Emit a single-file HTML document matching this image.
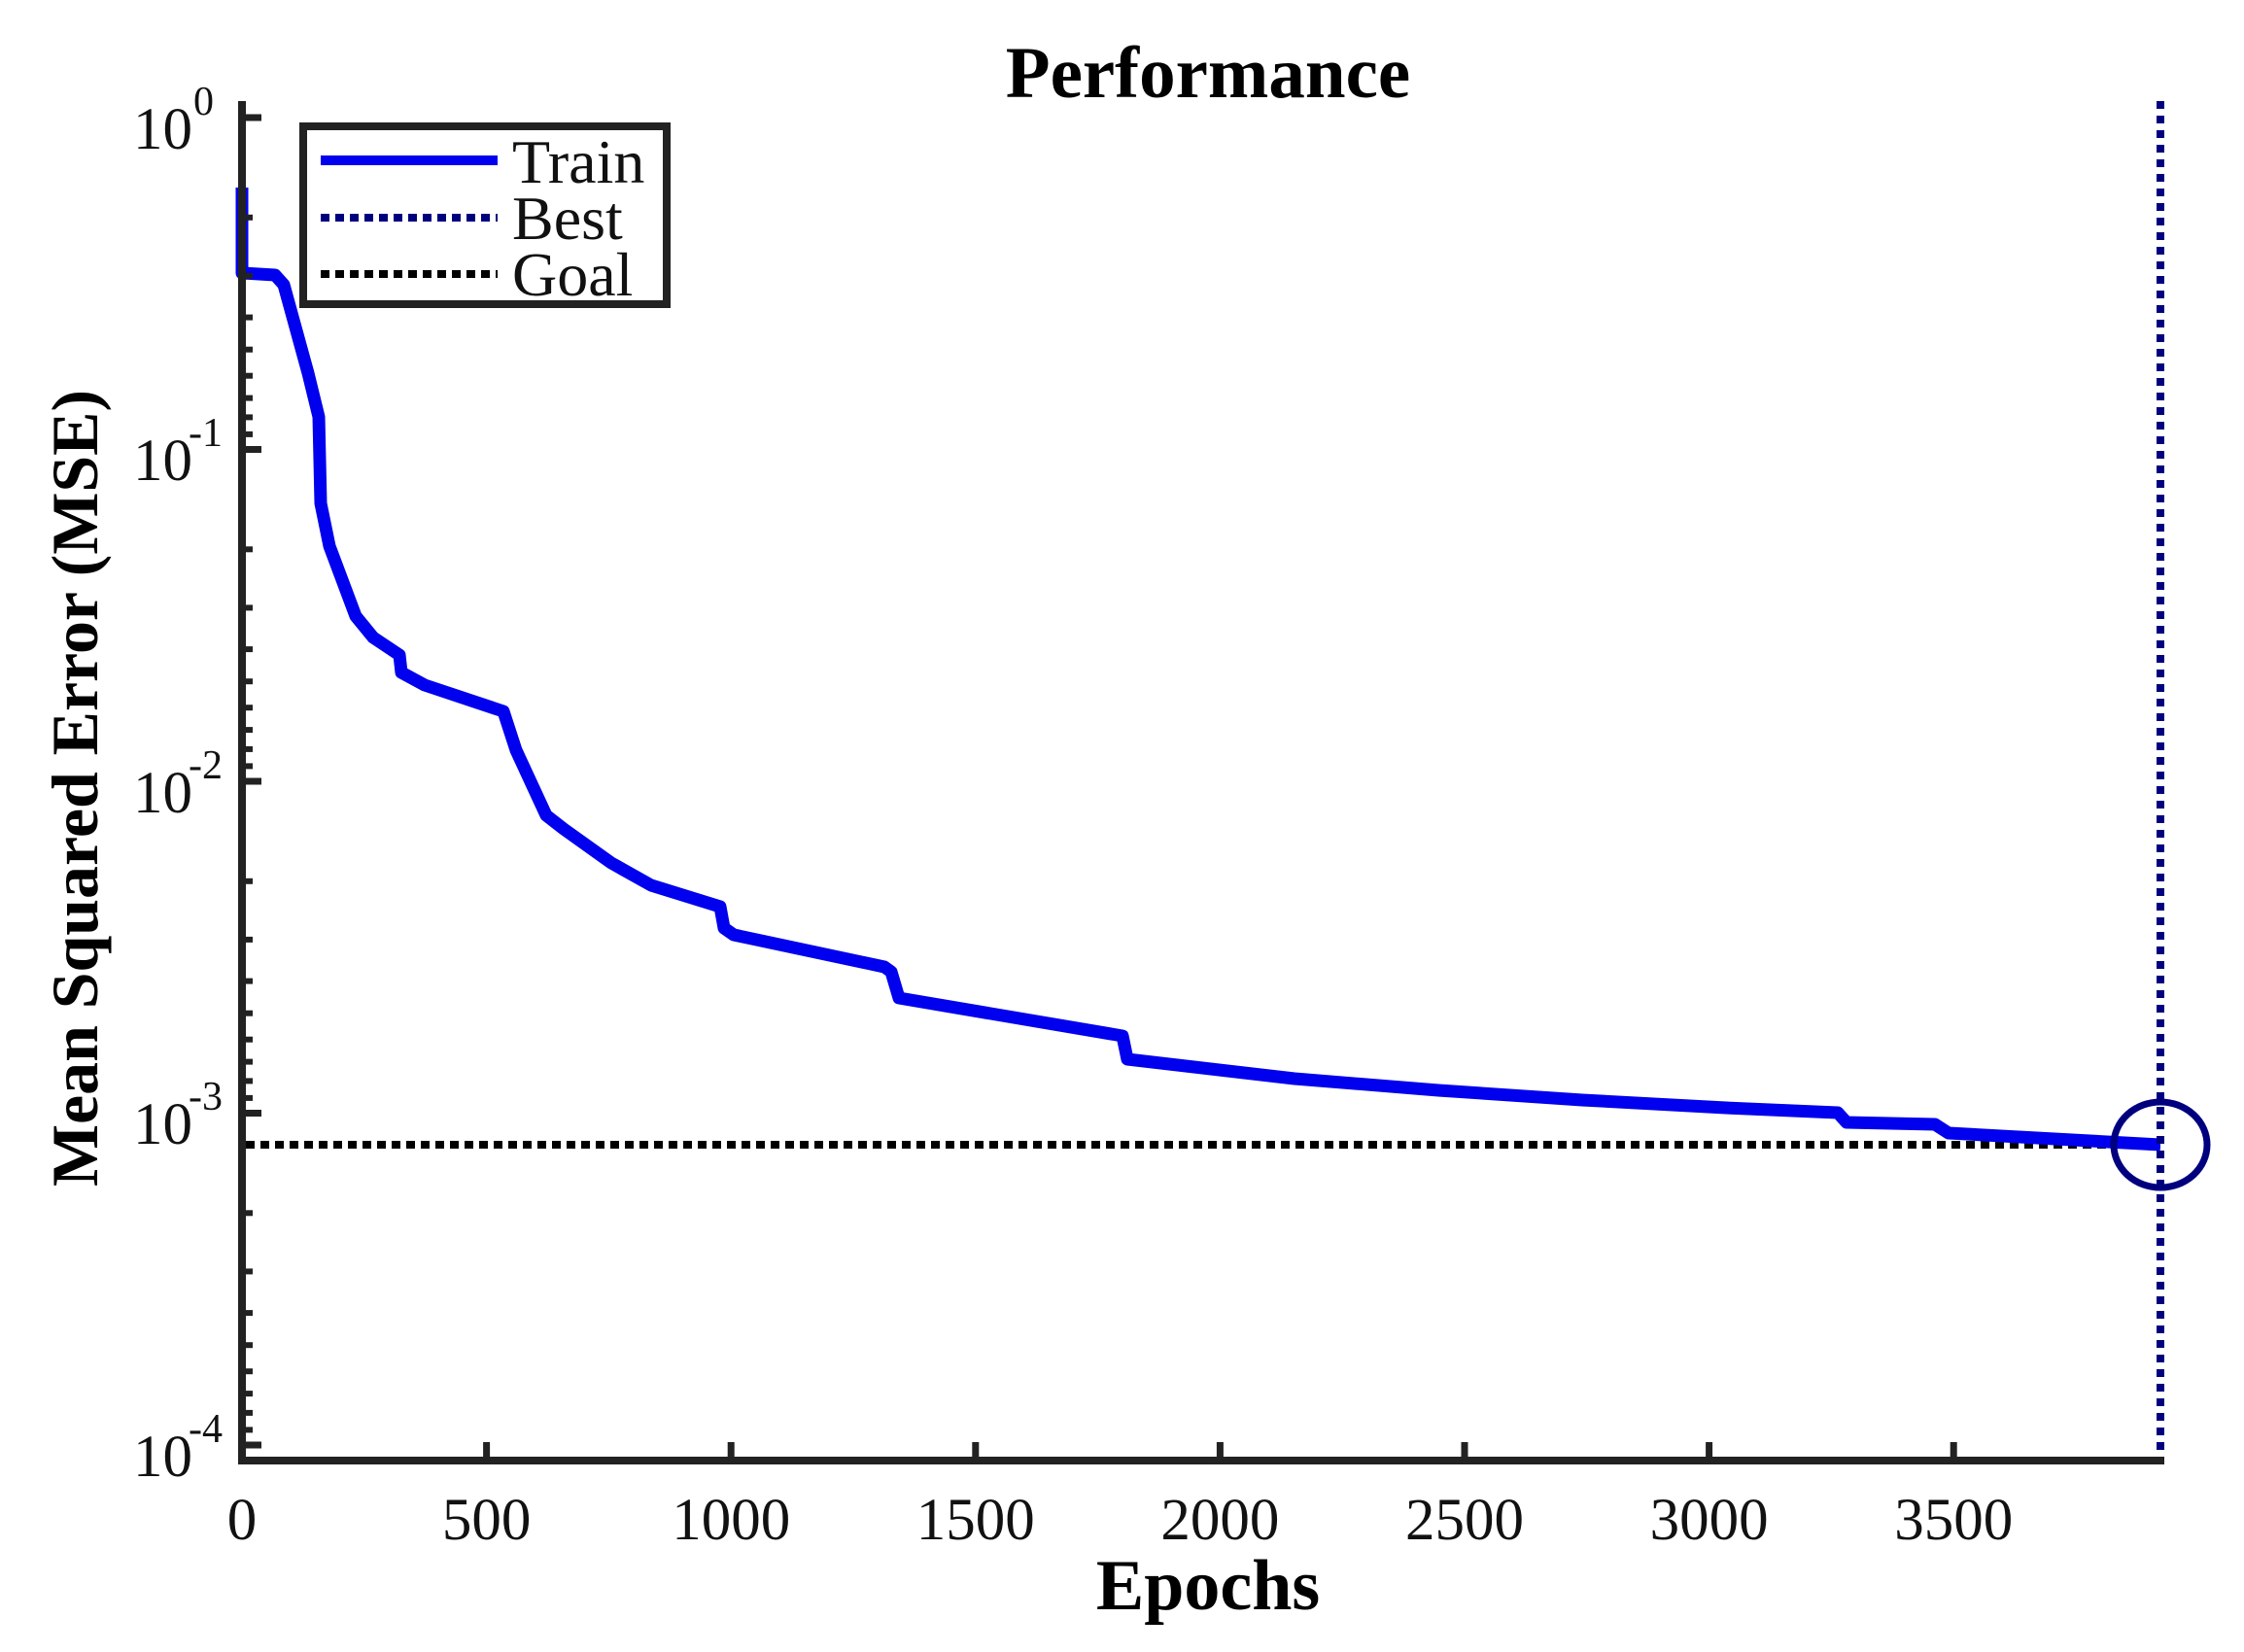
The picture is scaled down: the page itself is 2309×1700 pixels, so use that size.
<!DOCTYPE html>
<html><head><meta charset="utf-8"><style>html,body{margin:0;padding:0;background:#fff}svg{display:block}</style></head>
<body>
<svg width="2309" height="1700" viewBox="0 0 2309 1700" xmlns="http://www.w3.org/2000/svg" font-family="Liberation Serif, serif">
<rect width="2309" height="1700" fill="#fff"/>
<line x1="253" y1="1178" x2="2223" y2="1178" stroke="#000" stroke-width="8" stroke-dasharray="9,6"/>
<polyline fill="none" stroke="#0000ee" stroke-width="13" stroke-linejoin="round"
points="249,193 249,281 283,283 292,293 317,384 328,429 330,518 339,562 366,634 384,656 411,674 413,692 437,705 518,732 531,772 562,839 580,853 629,888 670,911 741,933 745,955 755,962 910,995 917,1000 925,1027 1155,1066 1160,1090 1332,1110 1480,1122 1628,1132 1776,1140 1891,1145 1900,1155 1991,1157 2005,1166 2223,1178"/>
<line x1="2223" y1="104" x2="2223" y2="1507" stroke="#00007f" stroke-width="8" stroke-dasharray="8,7"/>
<ellipse cx="2223" cy="1178" rx="48" ry="44" fill="none" stroke="#00007f" stroke-width="7"/>
<line x1="249" y1="104" x2="249" y2="1507" stroke="#222" stroke-width="8"/>
<line x1="245" y1="1503" x2="2227" y2="1503" stroke="#222" stroke-width="8"/>
<g stroke="#222" stroke-width="7">
<line x1="249" y1="121" x2="269" y2="121"/>
<line x1="249" y1="462.5" x2="269" y2="462.5"/>
<line x1="249" y1="804" x2="269" y2="804"/>
<line x1="249" y1="1145.5" x2="269" y2="1145.5"/>
<line x1="249" y1="1487" x2="269" y2="1487"/>
</g>
<g stroke="#222" stroke-width="6">
<line x1="249" y1="223.8" x2="260" y2="223.8"/><line x1="249" y1="283.9" x2="260" y2="283.9"/><line x1="249" y1="326.6" x2="260" y2="326.6"/><line x1="249" y1="359.7" x2="260" y2="359.7"/><line x1="249" y1="386.7" x2="260" y2="386.7"/><line x1="249" y1="409.6" x2="260" y2="409.6"/><line x1="249" y1="429.4" x2="260" y2="429.4"/><line x1="249" y1="446.9" x2="260" y2="446.9"/>
<line x1="249" y1="565.3" x2="260" y2="565.3"/><line x1="249" y1="625.4" x2="260" y2="625.4"/><line x1="249" y1="668.1" x2="260" y2="668.1"/><line x1="249" y1="701.2" x2="260" y2="701.2"/><line x1="249" y1="728.2" x2="260" y2="728.2"/><line x1="249" y1="751.1" x2="260" y2="751.1"/><line x1="249" y1="770.9" x2="260" y2="770.9"/><line x1="249" y1="788.4" x2="260" y2="788.4"/>
<line x1="249" y1="906.8" x2="260" y2="906.8"/><line x1="249" y1="966.9" x2="260" y2="966.9"/><line x1="249" y1="1009.6" x2="260" y2="1009.6"/><line x1="249" y1="1042.7" x2="260" y2="1042.7"/><line x1="249" y1="1069.7" x2="260" y2="1069.7"/><line x1="249" y1="1092.6" x2="260" y2="1092.6"/><line x1="249" y1="1112.4" x2="260" y2="1112.4"/><line x1="249" y1="1129.9" x2="260" y2="1129.9"/>
<line x1="249" y1="1248.3" x2="260" y2="1248.3"/><line x1="249" y1="1308.4" x2="260" y2="1308.4"/><line x1="249" y1="1351.1" x2="260" y2="1351.1"/><line x1="249" y1="1384.2" x2="260" y2="1384.2"/><line x1="249" y1="1411.2" x2="260" y2="1411.2"/><line x1="249" y1="1434.1" x2="260" y2="1434.1"/><line x1="249" y1="1453.9" x2="260" y2="1453.9"/><line x1="249" y1="1471.4" x2="260" y2="1471.4"/>
</g>
<g stroke="#222" stroke-width="7">
<line x1="500.6" y1="1503" x2="500.6" y2="1484"/><line x1="752.2" y1="1503" x2="752.2" y2="1484"/><line x1="1003.8" y1="1503" x2="1003.8" y2="1484"/><line x1="1255.4" y1="1503" x2="1255.4" y2="1484"/><line x1="1507" y1="1503" x2="1507" y2="1484"/><line x1="1758.6" y1="1503" x2="1758.6" y2="1484"/><line x1="2010.2" y1="1503" x2="2010.2" y2="1484"/>
</g>
<g font-size="61" text-anchor="middle" fill="#111">
<text x="249" y="1584">0</text><text x="500.6" y="1584">500</text><text x="752.2" y="1584">1000</text><text x="1003.8" y="1584">1500</text><text x="1255.4" y="1584">2000</text><text x="1507" y="1584">2500</text><text x="1758.6" y="1584">3000</text><text x="2010.2" y="1584">3500</text>
</g>
<g font-size="61" text-anchor="end" fill="#111">
<text x="198" y="153">10</text><text x="198" y="494">10</text><text x="198" y="836">10</text><text x="198" y="1177">10</text><text x="198" y="1519">10</text>
</g>
<g font-size="42" fill="#111">
<text x="199" y="118">0</text><text x="194" y="459">-1</text><text x="194" y="801">-2</text><text x="194" y="1142">-3</text><text x="194" y="1484">-4</text>
</g>
<text x="1243" y="100" font-size="75" font-weight="bold" text-anchor="middle">Performance</text>
<text x="1243" y="1656" font-size="74" font-weight="bold" text-anchor="middle">Epochs</text>
<text transform="translate(100,811) rotate(-90)" font-size="68" font-weight="bold" text-anchor="middle" textLength="820" lengthAdjust="spacingAndGlyphs">Mean Squared Error  (MSE)</text>
<rect x="312" y="130" width="374" height="183" fill="#fff" stroke="#222" stroke-width="8"/>
<line x1="330" y1="165" x2="512" y2="165" stroke="#0000ee" stroke-width="10"/>
<line x1="330" y1="224" x2="512" y2="224" stroke="#00007f" stroke-width="8" stroke-dasharray="9,6"/>
<line x1="330" y1="282" x2="512" y2="282" stroke="#000" stroke-width="8" stroke-dasharray="9,6"/>
<g font-size="64" fill="#111">
<text x="527" y="188">Train</text><text x="527" y="246">Best</text><text x="527" y="304">Goal</text>
</g>
</svg>
</body></html>
